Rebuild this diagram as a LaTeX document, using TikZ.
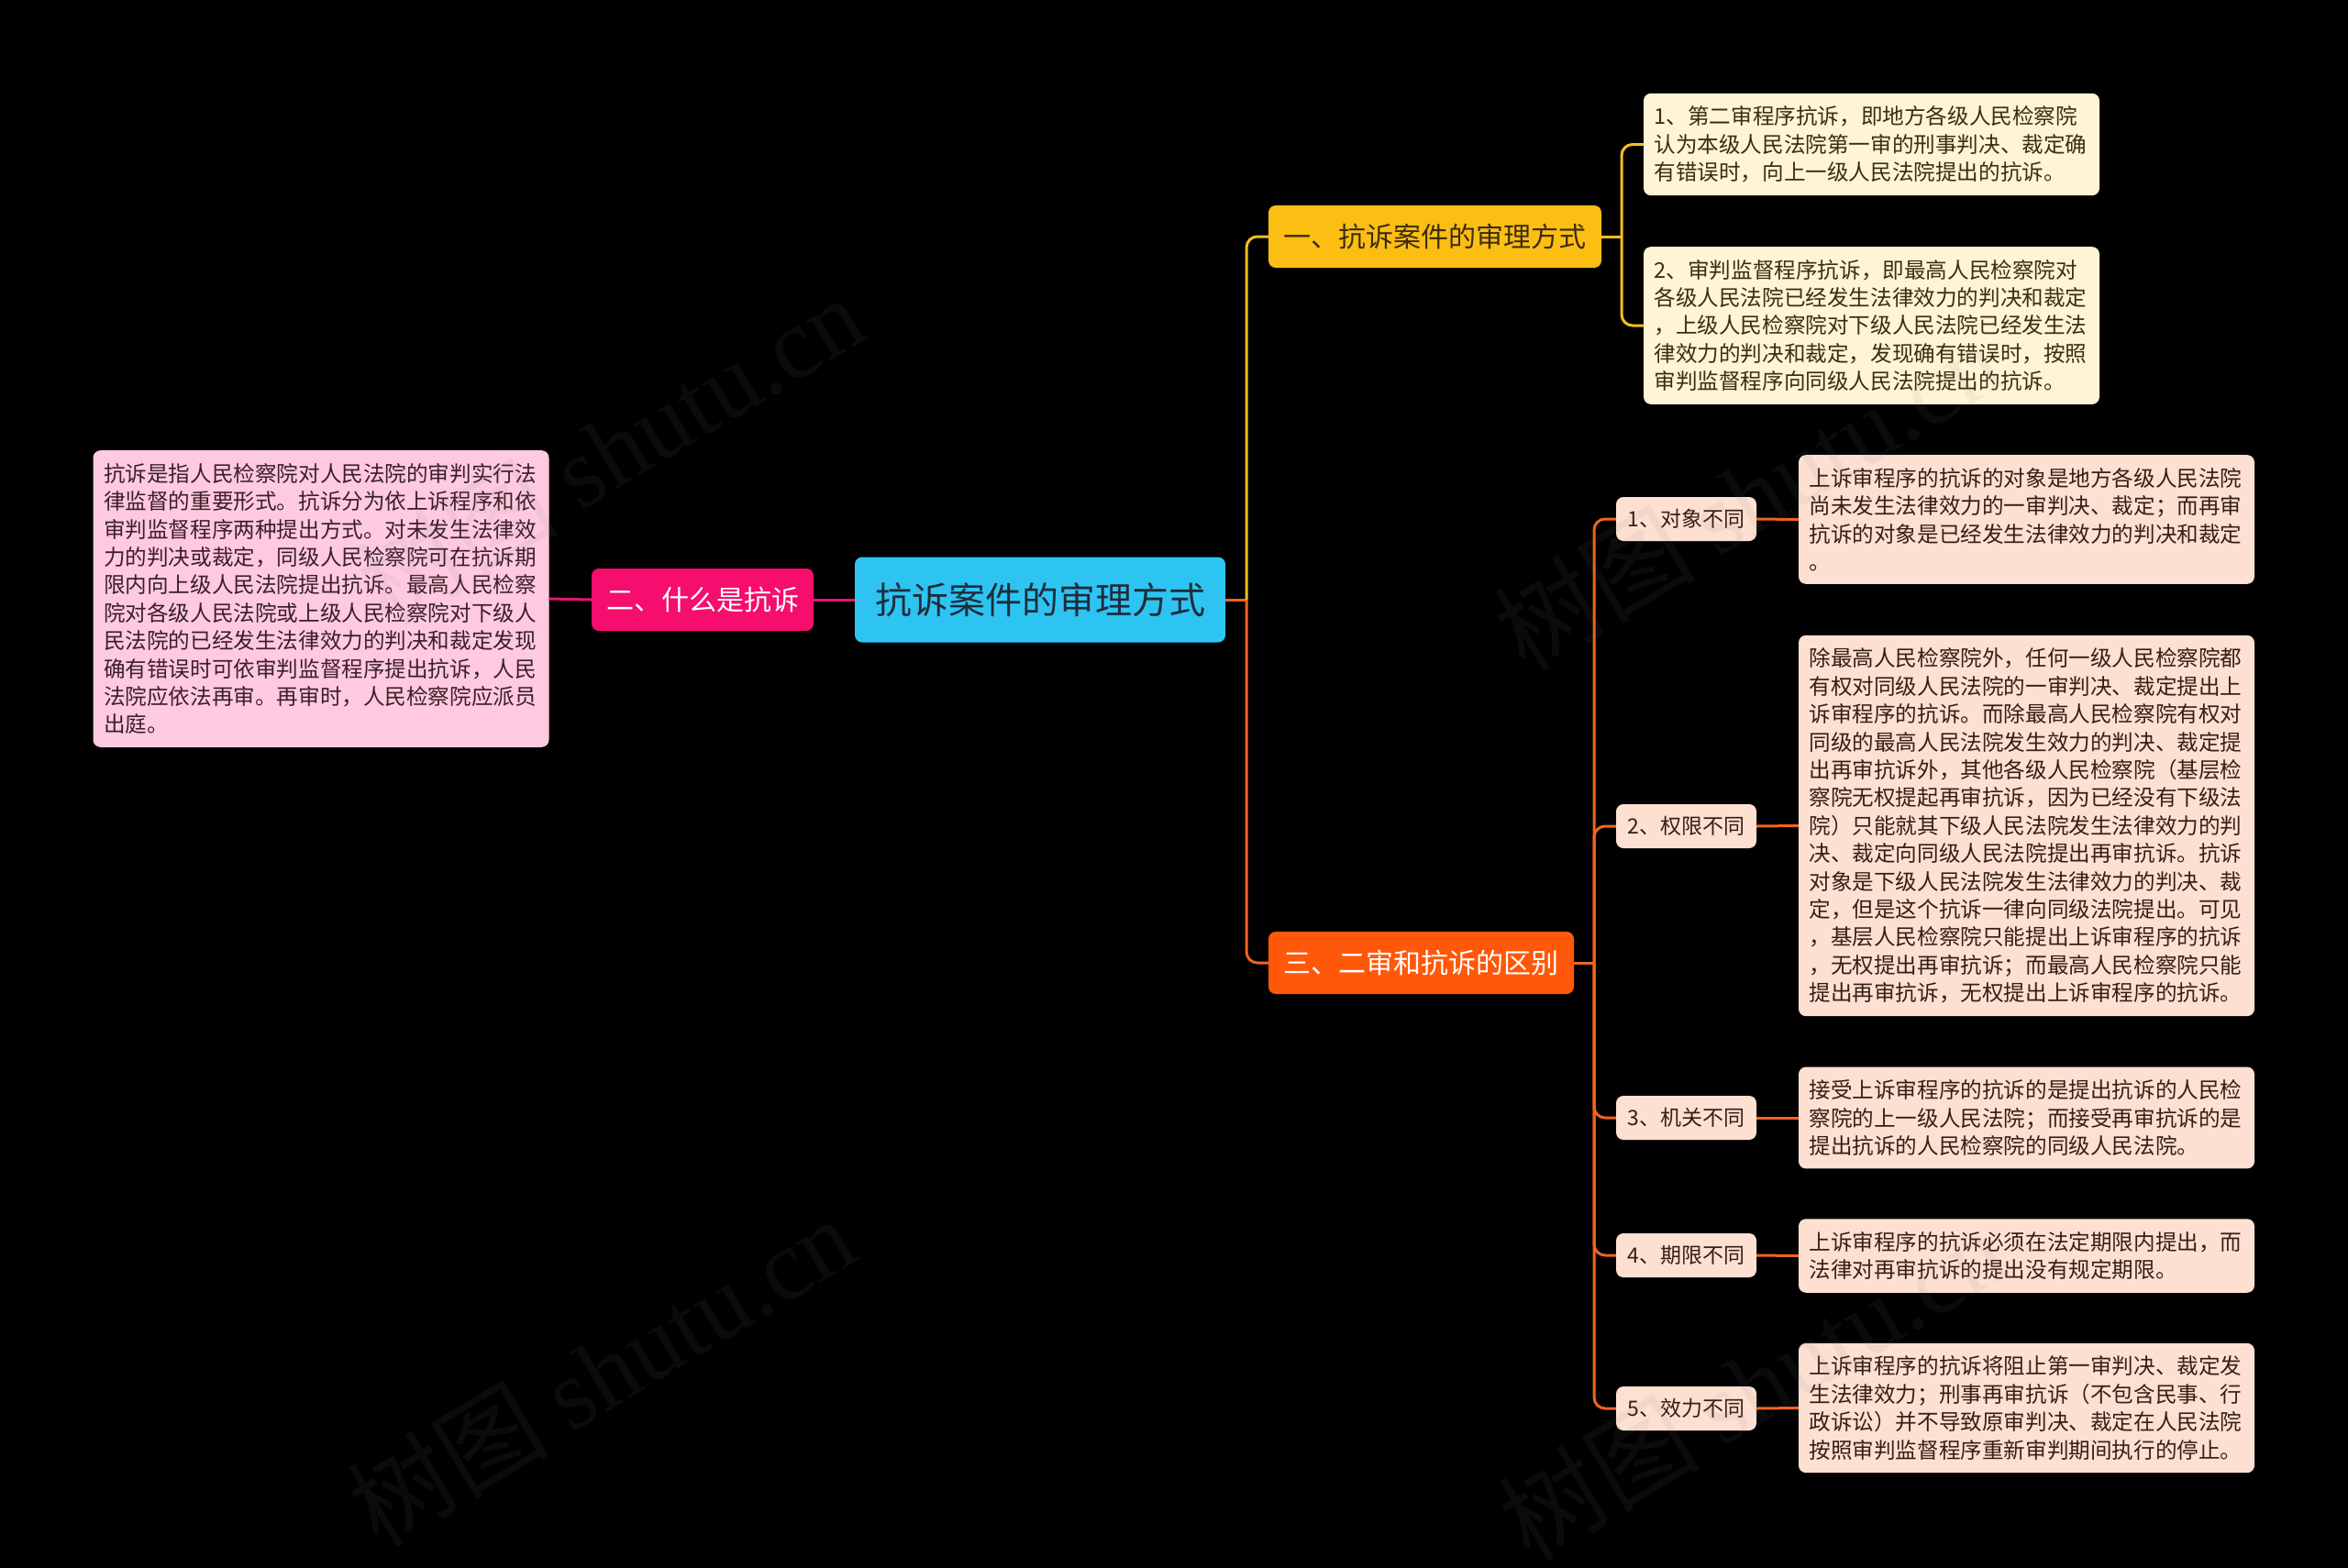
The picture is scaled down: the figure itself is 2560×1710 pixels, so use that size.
\documentclass[tikz,border=0pt]{standalone}
\usepackage{fontspec}
\setmainfont{Noto Sans CJK SC}
\newfontfamily\wmlatin{Liberation Serif}
\usetikzlibrary{calc}
\definecolor{rootbg}{RGB}{46,196,242}
\definecolor{roottxt}{RGB}{30,45,60}
\definecolor{pinkbg}{RGB}{245,14,110}
\definecolor{pinklight}{RGB}{255,202,224}
\definecolor{pinktxt}{RGB}{60,30,40}
\definecolor{yellowbg}{RGB}{253,190,20}
\definecolor{yellowlight}{RGB}{255,244,214}
\definecolor{yellowtxt}{RGB}{60,45,15}
\definecolor{orangebg}{RGB}{255,88,10}
\definecolor{orangelight}{RGB}{253,224,210}
\definecolor{orangetxt}{RGB}{55,30,20}
\definecolor{lineyellow}{RGB}{245,190,30}
\definecolor{lineorange}{RGB}{240,100,30}
\definecolor{linepink}{RGB}{230,20,110}
\tikzset{
  rootbox/.style={
    fill=rootbg,
    text=roottxt,
    rounded corners=8pt,
    minimum width=404pt,
    minimum height=93pt,
    inner sep=0pt,
    font=\fontsize{40}{48}\selectfont
  },
  labelbox/.style={
    rounded corners=8pt,
    minimum height=68pt,
    inner sep=0pt,
    font=\fontsize{30}{36}\selectfont
  },
  subbox/.style={
    fill=orangelight,
    text=orangetxt,
    rounded corners=8pt,
    minimum width=153pt,
    minimum height=48pt,
    inner sep=0pt,
    font=\fontsize{23}{28}\selectfont
  },
  detail/.style={
    rounded corners=8pt,
    align=left,
    text width=474pt,
    inner xsep=11.5pt,
    inner ysep=14pt,
    font=\fontsize{23.6}{30.4}\selectfont
  },
  link/.style={line width=3pt, rounded corners=12pt},
  wmark/.style={text=gray, opacity=0.09, rotate=31, font=\fontsize{110}{120}\selectfont}
}
\begin{document}
\begin{tikzpicture}[x=1pt,y=-1pt]
  \fill[black] (0,0) rectangle (2560,1710);
  \useasboundingbox (0,0) rectangle (2560,1710);

  \node[rootbox] (root) at (1134,654) {抗诉案件的审理方式};
  \node[labelbox, fill=pinkbg, text=white, minimum width=242pt] (two) at (766,654) {二、什么是抗诉};
  \node[detail, fill=pinklight, text=pinktxt] (def) at (350,653) {抗诉是指人民检察院对人民法院的审判实行法\\律监督的重要形式。抗诉分为依上诉程序和依\\审判监督程序两种提出方式。对未发生法律效\\力的判决或裁定，同级人民检察院可在抗诉期\\限内向上级人民法院提出抗诉。最高人民检察\\院对各级人民法院或上级人民检察院对下级人\\民法院的已经发生法律效力的判决和裁定发现\\确有错误时可依审判监督程序提出抗诉，人民\\法院应依法再审。再审时，人民检察院应派员\\出庭。};

  \node[labelbox, fill=yellowbg, text=yellowtxt, minimum width=363pt] (one) at (1564.5,258) {一、抗诉案件的审理方式};
  \node[detail, fill=yellowlight, text=yellowtxt] (y1) at (2040.5,157.5) {1、第二审程序抗诉，即地方各级人民检察院\\认为本级人民法院第一审的刑事判决、裁定确\\有错误时，向上一级人民法院提出的抗诉。};
  \node[detail, fill=yellowlight, text=yellowtxt] (y2) at (2040.5,355) {2、审判监督程序抗诉，即最高人民检察院对\\各级人民法院已经发生法律效力的判决和裁定\\，上级人民检察院对下级人民法院已经发生法\\律效力的判决和裁定，发现确有错误时，按照\\审判监督程序向同级人民法院提出的抗诉。};

  \node[labelbox, fill=orangebg, text=white, minimum width=333pt] (three) at (1549.5,1050) {三、二审和抗诉的区别};
  \node[subbox] (s1) at (1838.5,566) {1、对象不同};
  \node[subbox] (s2) at (1838.5,901) {2、权限不同};
  \node[subbox] (s3) at (1838.5,1219) {3、机关不同};
  \node[subbox] (s4) at (1838.5,1369) {4、期限不同};
  \node[subbox] (s5) at (1838.5,1536) {5、效力不同};
  \node[detail, fill=orangelight, text=orangetxt] (d1) at (2209.5,566.5) {上诉审程序的抗诉的对象是地方各级人民法院\\尚未发生法律效力的一审判决、裁定；而再审\\抗诉的对象是已经发生法律效力的判决和裁定\\。};
  \node[detail, fill=orangelight, text=orangetxt] (d2) at (2209.5,900.5) {除最高人民检察院外，任何一级人民检察院都\\有权对同级人民法院的一审判决、裁定提出上\\诉审程序的抗诉。而除最高人民检察院有权对\\同级的最高人民法院发生效力的判决、裁定提\\出再审抗诉外，其他各级人民检察院（基层检\\察院无权提起再审抗诉，因为已经没有下级法\\院）只能就其下级人民法院发生法律效力的判\\决、裁定向同级人民法院提出再审抗诉。抗诉\\对象是下级人民法院发生法律效力的判决、裁\\定，但是这个抗诉一律向同级法院提出。可见\\，基层人民检察院只能提出上诉审程序的抗诉\\，无权提出再审抗诉；而最高人民检察院只能\\提出再审抗诉，无权提出上诉审程序的抗诉。};
  \node[detail, fill=orangelight, text=orangetxt] (d3) at (2209.5,1219) {接受上诉审程序的抗诉的是提出抗诉的人民检\\察院的上一级人民法院；而接受再审抗诉的是\\提出抗诉的人民检察院的同级人民法院。};
  \node[detail, fill=orangelight, text=orangetxt] (d4) at (2209.5,1369.5) {上诉审程序的抗诉必须在法定期限内提出，而\\法律对再审抗诉的提出没有规定期限。};
  \node[detail, fill=orangelight, text=orangetxt] (d5) at (2209.5,1535.5) {上诉审程序的抗诉将阻止第一审判决、裁定发\\生法律效力；刑事再审抗诉（不包含民事、行\\政诉讼）并不导致原审判决、裁定在人民法院\\按照审判监督程序重新审判期间执行的停止。};

  \coordinate (rj) at (1359,654);
  \coordinate (oj) at (1768,258);
  \coordinate (tj) at (1738,1050);

  \draw[link, linepink] (root.west) -- (two.east);
  \draw[link, linepink] (two.west) -- (def.east);
  \draw[link, lineorange] (root.east) -- (rj);
  \draw[link, lineyellow] (rj) |- (one.west);
  \draw[link, lineorange] (rj) |- (three.west);
  \draw[link, lineyellow] (one.east) -- (oj);
  \draw[link, lineyellow] (oj) |- (y1.west);
  \draw[link, lineyellow] (oj) |- (y2.west);
  \draw[link, lineorange] (three.east) -- (tj);
  \foreach \s in {s1,s2,s3,s4,s5}
    \draw[link, lineorange] (tj) |- (\s.west);
  \foreach \s/\d in {s1/d1,s2/d2,s3/d3,s4/d4,s5/d5}
    \draw[link, lineorange] (\s.east) -- (\d.west);

  \node[wmark] (w1) at (665,490) {树图 {\wmlatin shutu.cn}};
  \node[wmark] (w2) at (1905,540) {树图 {\wmlatin shutu.cn}};
  \node[wmark] (w3) at (655,1495) {树图 {\wmlatin shutu.cn}};
  \node[wmark] (w4) at (1910,1510) {树图 {\wmlatin shutu.cn}};
\end{tikzpicture}
\end{document}
